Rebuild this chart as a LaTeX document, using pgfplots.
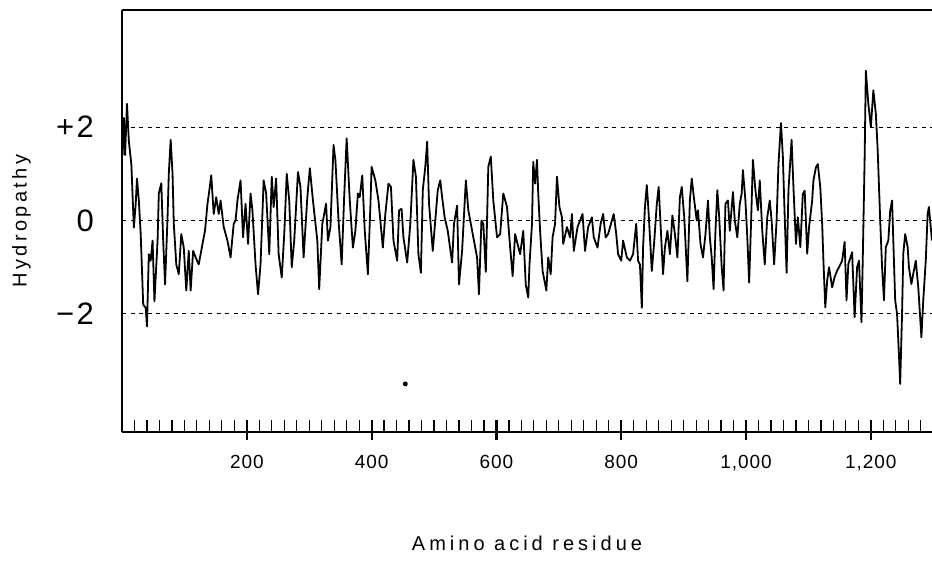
\documentclass[border=0pt]{standalone}
\usepackage{fontspec}
\setmainfont{Liberation Sans}
\usepackage{pgfplots}
\pgfplotsset{compat=1.18}

\begin{document}
\begin{tikzpicture}
\begin{axis}[
    scale only axis,
    width=405pt, height=211pt,
    xmin=0, xmax=1298,
    ymin=-4.53, ymax=4.51,
    axis x line*=box, axis y line*=left,
    axis line style={line width=0.8pt},
    xtick pos=left,
    xtick={200,400,...,1200},
    xticklabels={200,400,600,800,{1,000},{1,200}},
    minor xtick={20,40,...,1280},
    tick align=inside,
    major tick length=6pt, minor tick length=6pt,
    every tick/.style={black, line width=0.6pt},
    major tick style={line width=1.1pt},
    extra x ticks={200,400,...,1200},
    extra x tick labels={},
    extra x tick style={tick align=outside, major tick length=4pt},
    ytick={-2,0,2},
    yticklabels={−2,0,+2},
    ytick style={draw=none},
    xticklabel style={font=\fontsize{9.5}{10}\selectfont\addfontfeature{LetterSpace=5}, yshift=-8pt},
    yticklabel style={font=\fontsize{15.5}{16}\selectfont\addfontfeature{LetterSpace=8}, xshift=-10.5pt},
    xlabel={Amino acid residue},
    ylabel={Hydropathy},
    xlabel style={font=\fontsize{10}{12}\selectfont\addfontfeature{LetterSpace=20},
        at={(axis description cs:0.5,-0.265)}, anchor=center},
    ylabel style={font=\fontsize{10}{12}\selectfont\addfontfeature{LetterSpace=17},
        at={(axis description cs:-0.124,0.5)}, anchor=center},
]
\coordinate (bl) at (rel axis cs:0,0);
\coordinate (tr) at (rel axis cs:1,1);

% reference levels
\addplot[black, line width=0.5pt, dash pattern=on 2pt off 2.3pt] coordinates {(0,2) (1298,2)};
\addplot[black, line width=0.5pt, dash pattern=on 2pt off 2.3pt] coordinates {(0,0) (1298,0)};
\addplot[black, line width=0.5pt, dash pattern=on 2pt off 2.3pt] coordinates {(0,-2) (1298,-2)};

% hydropathy profile
\addplot[black, line width=0.9pt, line join=round, mark=none] coordinates {
(1,1.4) (3,2.2) (5,1.4) (8,2.5) (11,1.7) (15,1.2) (19,-0.15) (22,0.36) (24,0.9) (27,0.43)
(30,-0.3) (34,-1.8) (38,-1.87) (40,-2.27) (43,-0.72) (46,-0.86) (49,-0.43) (52,-1.73) (57,-0.43) (59,0.58)
(63,0.8) (66,-0.43) (69,-1.37) (73,0.07) (75,1.0) (78,1.73) (81,1.0) (83,-0.07) (87,-0.94) (91,-1.15)
(95,-0.29) (99,-0.58) (103,-1.5) (107,-0.65) (110,-1.5) (114,-0.65) (118,-0.79) (123,-0.94) (129,-0.5) (133,-0.22)
(137,0.36) (140,0.65) (143,0.97) (147,0.14) (151,0.5) (155,0.14) (158,0.43) (163,-0.14) (169,-0.43) (174,-0.79)
(179,-0.07) (182,0) (185,0.43) (190,0.86) (194,-0.36) (198,0.36) (202,-0.5) (206,0.58) (209,0.22) (214,-0.94)
(218,-1.58) (222,-0.94) (227,0.86) (231,0.58) (236,-0.72) (240,0.94) (243,0.29) (247,0.9) (251,-0.72) (256,-1.22)
(260,-0.29) (264,1.0) (268,0.43) (272,-1.0) (276,-0.43) (282,1.04) (286,0.72) (291,-0.79) (297,0.5) (301,1.12)
(306,0.43) (313,-0.43) (316,-1.47) (321,-0.07) (324,0.14) (327,0.36) (330,-0.43) (334,-0.14) (339,1.62) (342,1.29)
(347,0) (352,-0.94) (356,0.5) (360,1.76) (365,0.43) (370,-0.58) (374,-0.22) (378,0.58) (381,0.5) (385,0.97)
(389,-0.22) (394,-1.15) (398,0.29) (400,1.15) (406,0.86) (411,0.43) (418,-0.58) (422,0.14) (427,0.79) (431,0.72)
(435,-0.43) (441,-0.86) (444,0.22) (448,0.25) (451,-0.36) (457,-0.9) (462,-0.07) (467,1.3) (471,0.94) (475,-0.72)
(479,-1.12) (482,0.65) (486,1.15) (489,1.69) (492,0.36) (498,-0.65) (502,0) (506,0.65) (510,0.86) (513,0.5)
(517,0.07) (522,-0.22) (529,-0.9) (532,-0.07) (537,0.32) (540,-1.37) (545,-0.65) (551,0.86) (555,0.22) (563,-0.36)
(569,-0.79) (572,-1.58) (576,0) (579,-0.07) (583,-1.1) (587,1.15) (591,1.37) (595,0.43) (601,-0.36) (606,-0.29)
(611,0.58) (617,0.29) (622,-0.58) (626,-1.19) (630,-0.29) (638,-0.72) (643,-0.22) (647,-1.37) (651,-1.65) (653,-0.94)
(657,-0.07) (659,1.26) (662,0.79) (665,1.3) (667,0.58) (670,-0.22) (674,-1.08) (680,-1.5) (683,-0.79) (687,-1.15)
(690,-0.36) (694,-0.07) (697,0.94) (701,0.29) (705,0.07) (707,-0.5) (713,-0.14) (718,-0.36) (721,0.14) (724,-0.65)
(730,-0.14) (734,0) (738,0.14) (742,-0.65) (747,-0.14) (753,0.07) (756,-0.36) (762,-0.58) (767,-0.07) (771,0.14)
(775,-0.36) (779,-0.29) (785,0) (788,0.14) (792,-0.29) (795,-0.72) (800,-0.86) (803,-0.43) (809,-0.79) (814,-0.86)
(819,-0.72) (824,-0.07) (827,-0.86) (830,-0.94) (833,-1.87) (835,-0.58) (838,0.29) (841,0.76) (844,0.14) (849,-1.08)
(853,-0.43) (857,0.36) (860,0.72) (863,-0.07) (867,-1.15) (870,-0.58) (874,-0.22) (878,-0.72) (882,0.11) (886,-0.29)
(890,-0.79) (894,0.5) (897,0.72) (901,0.07) (906,-1.3) (910,0.43) (913,0.9) (917,0.43) (921,0) (923,0.22)
(927,-0.5) (931,-0.79) (935,-0.29) (939,0.43) (942,-0.36) (945,-0.79) (948,-1.47) (951,-0.22) (954,0.65) (957,0.07)
(961,-1.0) (964,-1.5) (967,0.36) (971,0.43) (974,-0.22) (979,0.61) (982,0) (986,-0.36) (990,0.36) (993,0.58)
(995,1.08) (999,0.43) (1002,-0.36) (1005,-1.33) (1008,-0.07) (1011,1.3) (1015,0.65) (1019,0.22) (1022,0.86) (1026,-0.22)
(1030,-0.94) (1034,0.07) (1038,0.43) (1041,0) (1045,-0.94) (1049,0) (1052,1.22) (1056,2.09) (1059,1.37) (1062,0.07)
(1065,-1.12) (1068,0.65) (1073,1.73) (1076,0.71) (1080,-0.5) (1083,0.07) (1087,-0.57) (1091,0.57) (1094,0.64) (1098,-0.71)
(1101,-0.14) (1106,0.43) (1108,0.86) (1112,1.14) (1115,1.21) (1119,0.71) (1122,-0.07) (1124,-0.86) (1127,-1.86) (1130,-1.29)
(1133,-1.0) (1138,-1.43) (1142,-1.21) (1146,-1.07) (1149,-1.0) (1154,-0.86) (1158,-0.46) (1161,-1.71) (1164,-0.93) (1170,-0.68)
(1174,-2.07) (1178,-1.0) (1181,-0.86) (1185,-2.18) (1187,-0.86) (1190,1.29) (1192,3.21) (1196,2.5) (1200,2.0) (1204,2.79)
(1208,2.29) (1211,1.5) (1215,0) (1218,-1.0) (1221,-1.71) (1224,-0.57) (1228,-0.43) (1231,0.21) (1234,0.43) (1236,-0.43)
(1239,-1.71) (1242,-2.0) (1245,-2.86) (1247,-3.5) (1250,-2.0) (1252,-0.71) (1255,-0.29) (1259,-0.57) (1261,-1.0) (1265,-1.36)
(1268,-1.14) (1272,-0.86) (1276,-1.43) (1281,-2.5) (1284,-1.71) (1288,-0.86) (1291,0.14) (1293,0.29) (1298,-0.43)
};

% stray dot in the original figure
\addplot[only marks, mark=*, mark size=1pt, black] coordinates {(454,-3.5)};
\end{axis}
\pgfresetboundingbox
\path ([xshift=-61pt,yshift=-64.5pt]bl) rectangle ([yshift=5pt]tr);
\end{tikzpicture}
\end{document}
